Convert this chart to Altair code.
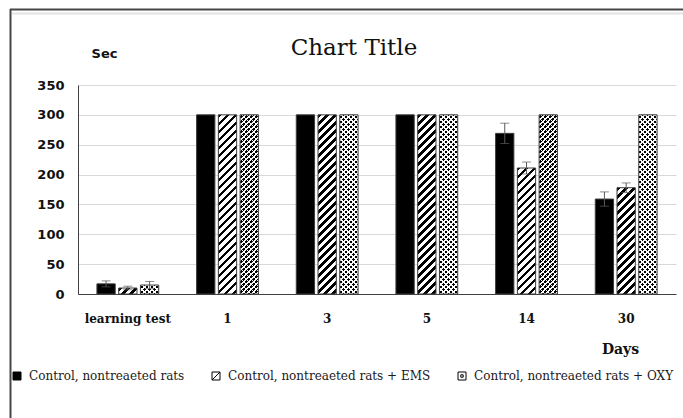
import altair as alt
import pandas as pd

# ---- data -------------------------------------------------------------
categories = ["learning test", "1", "3", "5", "14", "30"]
groups = [
    "Control, nontreaeted rats",
    "Control, nontreaeted rats + EMS",
    "Control, nontreaeted rats + OXY",
]
control = [17, 300, 300, 300, 269, 159]
control_err = [5, 0, 0, 0, 17, 12]
ems = [10, 300, 300, 300, 211, 178]
ems_err = [3, 0, 0, 0, 10, 8]
oxy = [15, 300, 300, 300, 300, 300]
oxy_err = [6, 0, 0, 0, 0, 0]

rows = []
for name, vals, errs in zip(groups, [control, ems, oxy], [control_err, ems_err, oxy_err]):
    for cat, v, e in zip(categories, vals, errs):
        rows.append({"day": cat, "group": name, "sec": v, "err": e,
                     "lo": v - e, "hi": v + e})
df = pd.DataFrame(rows)

# ---- layout -----------------------------------------------------------
PLOT_W, PLOT_H = 598, 209
Y_MAX = 350
PAD_IN, PAD_OUT = 0.38, 0.19
SUB_PAD = 0.16

step = PLOT_W / (len(categories) - PAD_IN + 2 * PAD_OUT)
band = step * (1 - PAD_IN)
BAR_W = band / (len(groups) - SUB_PAD) * (1 - SUB_PAD)

SERIF = "DejaVu Serif"
SANS = "DejaVu Sans"

x_axis = alt.Axis(title="Days", titleX=542, titleY=55, titleAlign="center",
                  titleBaseline="middle", titleFont=SERIF, titleFontSize=14,
                  titleFontWeight="bold", titleColor="#111",
                  labelFont=SERIF, labelFontSize=12, labelFontWeight="bold",
                  labelColor="#111", labelAngle=0, labelPadding=19,
                  ticks=False, domainColor="#404040", domainWidth=1)
x_enc = alt.X("day:N",
              scale=alt.Scale(domain=categories, paddingInner=PAD_IN, paddingOuter=PAD_OUT),
              axis=x_axis)
xo_enc = alt.XOffset("group:N",
                     scale=alt.Scale(domain=groups, paddingInner=SUB_PAD, paddingOuter=0))
y_scale = alt.Scale(domain=[0, Y_MAX], nice=False)
y_axis = alt.Axis(title="Sec", titleAngle=0, titleX=26, titleY=-32,
                  titleAlign="center", titleBaseline="middle",
                  titleFont=SANS, titleFontSize=13, titleFontWeight="bold",
                  titleColor="#111",
                  values=list(range(0, Y_MAX + 1, 50)),
                  labelFont=SANS, labelFontSize=13, labelFontWeight="bold",
                  labelColor="#111", labelPadding=14, ticks=False,
                  gridColor="#d9d9d9", gridWidth=1,
                  domainColor="#404040", domainWidth=1)


def y_on(field):
    return alt.Y(f"{field}:Q", scale=y_scale, axis=y_axis, title="Sec")


# ---- fill patterns (stripes built from hard-stop gradients) -------------
def diag_stripes(w, h, period, on_frac, on_color, off_color, rising=True):
    beta = (w + h) / (w * w + h * h)
    if rising:
        x1, y1, x2, y2 = 0, 0, beta * w, beta * h
    else:
        x1, y1, x2, y2 = 0, 1, beta * w, 1 - beta * h
    span = w + h
    stops = []
    k = 0
    while k * period < span:
        a = k * period / span
        b = min((k + on_frac) * period / span, 1)
        c = min((k + 1) * period / span, 1)
        stops += [{"offset": round(a, 5), "color": on_color},
                  {"offset": round(b, 5), "color": on_color},
                  {"offset": round(b, 5), "color": off_color},
                  {"offset": round(c, 5), "color": off_color}]
        k += 1
    return {"gradient": "linear", "x1": x1, "y1": y1, "x2": round(x2, 5),
            "y2": round(y2, 5), "stops": stops}


CLEAR = "rgba(255,255,255,0)"


def pattern_layers(group, values, fills):
    out = []
    for v in sorted(set(values)):
        h = v * PLOT_H / Y_MAX
        for make in fills:
            out.append(
                alt.Chart(df).mark_bar(fill=make(BAR_W, h))
                .encode(x=x_enc, xOffset=xo_enc, y=y_on("sec"))
                .transform_filter((alt.datum.group == group) & (alt.datum.sec == v))
            )
    return out


hatch = lambda w, h: diag_stripes(w, h, 8, 0.45, "black", "white", True)
dots_a = lambda w, h: diag_stripes(w, h, 5, 0.36, "white", CLEAR, True)
dots_b = lambda w, h: diag_stripes(w, h, 5, 0.36, "white", CLEAR, False)

# ---- legend symbols ---------------------------------------------------
shape_paths = [
    "M-1,-1H1V1H-1Z",
    "M-1,-1H1V1H-1Z M-1,1L1,-1",
    "M-1,-1H1V1H-1Z M-0.3,-0.3H0.3V0.3H-0.3Z",
]
shape_expr = (f"datum.value === '{groups[0]}' ? '{shape_paths[0]}' : "
              f"datum.value === '{groups[1]}' ? '{shape_paths[1]}' : '{shape_paths[2]}'")

legend = alt.Legend(orient="none", legendX=-67, legendY=285, direction="horizontal",
                    title=None, padding=0, symbolSize=64, symbolStrokeWidth=1,
                    symbolStrokeColor="black", symbolType=alt.ExprRef(shape_expr),
                    labelFont=SERIF, labelFontSize=12,
                    labelColor="#1a1a1a", labelOffset=6, columnPadding=25,
                    labelLimit=400)

# ---- layers -----------------------------------------------------------
base = alt.Chart(df).mark_bar().encode(
    x=x_enc, xOffset=xo_enc, y=y_on("sec"),
    fill=alt.Fill("group:N", scale=alt.Scale(domain=groups, range=["black", "white", "white"]),
                  legend=legend),
)

oxy_dark = (alt.Chart(df).mark_bar(fill="black")
            .encode(x=x_enc, xOffset=xo_enc, y=y_on("sec"))
            .transform_filter(alt.datum.group == groups[2]))

outline = (alt.Chart(df).mark_bar(fillOpacity=0, stroke="#3c3c3c", strokeWidth=1)
           .encode(x=x_enc, xOffset=xo_enc, y=y_on("sec")))

err_df = alt.Chart(df).transform_filter(alt.datum.err > 0)
err_rule = err_df.mark_rule(color="#5a5a5a", strokeWidth=1).encode(
    x=x_enc, xOffset=xo_enc, y=y_on("lo"), y2="hi:Q")
cap_hi = err_df.mark_tick(color="#5a5a5a", thickness=1, size=9, orient="horizontal").encode(
    x=x_enc, xOffset=xo_enc, y=y_on("hi"))
cap_lo = err_df.mark_tick(color="#5a5a5a", thickness=1, size=9, orient="horizontal").encode(
    x=x_enc, xOffset=xo_enc, y=y_on("lo"))

# outer frame of the figure
one = pd.DataFrame({"k": [0]})
frame_top = alt.Chart(one).mark_rule(color="#474747", strokeWidth=2).encode(
    x=alt.value(-68), x2=alt.value(620), y=alt.value(-75.5))
frame_inner = alt.Chart(one).mark_rule(color="#e3e3e3", strokeWidth=2).encode(
    x=alt.value(-66), x2=alt.value(620), y=alt.value(-71.5))
frame_left = alt.Chart(one).mark_rule(color="#474747", strokeWidth=2).encode(
    x=alt.value(-67.5), y=alt.value(-76), y2=alt.value(345))

layers = [base, oxy_dark]
layers += pattern_layers(groups[1], ems, [hatch])
layers += pattern_layers(groups[2], oxy, [dots_a, dots_b])
layers += [outline, err_rule, cap_hi, cap_lo, frame_top, frame_inner, frame_left]

chart = alt.layer(*layers).properties(
    width=PLOT_W,
    height=PLOT_H,
    background="white",
    padding={"left": 78, "top": 85, "right": 7, "bottom": 124},
    autosize=alt.AutoSizeParams(type="none"),
    title=alt.TitleParams("Chart Title", font=SERIF, fontSize=23, fontWeight="normal",
                          color="#111", anchor="middle", frame="group", dx=-23,
                          offset=-70, baseline="alphabetic"),
).configure_view(stroke=None)

chart.save("out.html", embed_options={"renderer": "svg", "actions": False})
